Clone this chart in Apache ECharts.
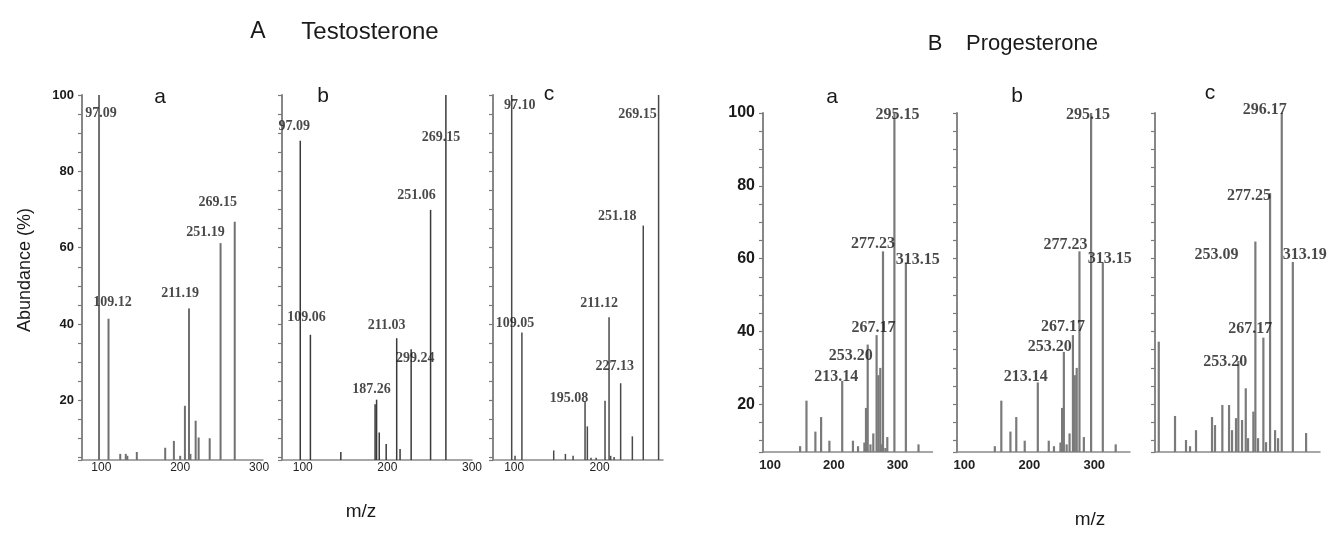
<!DOCTYPE html>
<html>
<head>
<meta charset="utf-8">
<script src="https://cdn.jsdelivr.net/npm/echarts@6/dist/echarts.min.js"></script>
<style>
  html, body { margin: 0; padding: 0; background: #fff; }
  #chart { width: 1330px; height: 545px; }
</style>
</head>
<body>
<div id="chart"></div>
<script>
(() => {
  "use strict";
  // m/z positions and relative abundance (%)
  // A Testosterone, panel a
  const taMz = [97.09, 109.12, 124, 131, 133, 145, 181, 192, 200, 206, 211.19, 213, 219.6, 223.4, 237.4, 251.19, 269.15];
  const taAb = [100, 41.4, 6, 6, 5.5, 6.5, 7.6, 9.4, 5.5, 18.6, 44.1, 6, 14.7, 10.3, 10.1, 61.2, 66.8];
  const taTags = [[97.09, "97.09"], [109.12, "109.12"], [211.19, "211.19"], [251.19, "251.19"], [269.15, "269.15"]];
  // A Testosterone, panel b
  const tbMz = [97.09, 109.06, 145, 185.5, 187.26, 190.4, 198.6, 211.03, 215, 228.1, 251.06, 269.15];
  const tbAb = [88.0, 37.2, 6.5, 19, 20.2, 11.6, 8.6, 36.3, 7.3, 33.4, 69.9, 100];
  const tbTags = [[97.09, "97.09"], [109.06, "109.06"], [187.26, "187.26"], [211.03, "211.03"], [228.1, "299.24"], [251.06, "251.06"], [269.15, "269.15"]];
  // A Testosterone, panel c
  const tcMz = [97.10, 101, 109.05, 146.3, 160, 169, 183, 185.7, 190, 196, 206.4, 211.12, 213, 217, 224.7, 238.4, 251.18, 269.15];
  const tcAb = [100, 5.5, 37.8, 6.9, 6, 5.5, 19.7, 13.2, 5, 5, 19.9, 41.8, 5.5, 5.2, 24.5, 10.6, 65.8, 100];
  const tcTags = [[97.10, "97.10"], [109.05, "109.05"], [183, "195.08"], [211.12, "211.12"], [224.7, "227.13"], [251.18, "251.18"], [269.15, "269.15"]];
  // B Progesterone, panel a
  const paMz = [147, 157, 171, 180, 193, 213.14, 230, 238, 248, 250.5, 253.20, 257.5, 262, 267.17, 270, 273, 275, 277.23, 281, 284, 295.15, 313.15, 333];
  const paAb = [8.5, 21, 12.5, 16.5, 10, 26.4, 10, 8.5, 9.5, 19, 36.4, 9, 12, 39, 28, 30, 9, 62, 8, 11, 100, 59, 9];
  const paTags = [[213.14, "213.14"], [253.20, "253.20"], [267.17, "267.17"], [277.23, "277.23"], [295.15, "295.15"], [313.15, "313.15"]];
  // B Progesterone, panel b
  const pbMz = [147, 157, 171, 180, 193, 213.14, 230, 238, 248, 250.5, 253.20, 257.5, 262, 267.17, 270, 273, 277.23, 284, 295.15, 313.15, 333];
  const pbAb = [8.5, 21, 12.5, 16.5, 10, 26, 10, 8.5, 9.5, 19, 34.4, 9, 12, 39, 28, 30, 62, 11, 100, 59, 9];
  const pbTags = [[213.14, "213.14"], [253.20, "253.20"], [267.17, "267.17"], [277.23, "277.23"], [295.15, "295.15"], [313.15, "313.15"]];
  // B Progesterone, panel c
  const pcMz = [107, 132, 148.9, 155.1, 164.3, 188.9, 193.5, 204.8, 215.1, 219.7, 225.8, 229.4, 235.1, 240.8, 244.3, 252.5, 255.6, 259.7, 267.9, 272, 278.2, 285.9, 290.5, 296.17, 313.19, 333.6];
  const pcAb = [37.2, 16.8, 10.2, 8.5, 12.9, 16.5, 14.3, 19.8, 19.8, 12.9, 16.2, 31.9, 15.7, 24.4, 10.7, 18, 64.7, 10.7, 38.3, 9.6, 78, 12.9, 10.7, 100, 59.1, 12.1];
  const pcTags = [[229.4, "253.20"], [255.6, "253.09"], [267.9, "267.17"], [278.2, "277.25"], [296.17, "296.17"], [313.19, "313.19"]];

  // label offsets (px) from the top of the bar they belong to
  const TAG_OFF = {
    ta: [[2, 18], [4, -16], [-9, -15], [-15, -11], [-17, -19]],
    tb: [[-6, -14], [-4, -17], [-5, -10], [-10, -13], [4, 9], [-14, -15], [-5, 42]],
    tc: [[8, 10], [-7, -9], [-16, -3], [-10, -14], [-6, -17], [-26, -9], [-21, 19]],
    pa: [[-6, -4], [-17, 11], [-3, -7], [-10, -8], [3, 2], [12, -2]],
    pb: [[-12, -6], [-14, -5], [-10, -8], [-14, -7], [-3, 2], [7, -3]],
    pc: [[-13, 1], [-39, 13], [-13, -9], [-21, 3], [-17, -3], [12, -7]],
  };

  const SANS = "'Liberation Sans', Arial, sans-serif";
  const SERIF = "'Liberation Serif', 'Times New Roman', serif";

  const PANELS = [
    { key: "ta", mz: taMz, ab: taAb, tags: taTags, g: [82, 95, 181, 365], x: [75.5, 305], y: [4.4, 100], yLab: 13, xLab: 12, xBold: false, color: "#707070", bw: 2, font: 14 },
    { key: "tb", mz: tbMz, ab: tbAb, tags: tbTags, g: [282, 95, 190, 365], x: [75.5, 300], y: [4.4, 100], yLab: 0, xLab: 12, xBold: false, color: "#3a3a3a", bw: 1.5, font: 14 },
    { key: "tc", mz: tcMz, ab: tcAb, tags: tcTags, g: [493, 95, 170, 365], x: [75.2, 274.3], y: [4.4, 100], yLab: 0, xLab: 12, xBold: false, color: "#4a4a4a", bw: 1.5, font: 14 },
    { key: "pa", mz: paMz, ab: paAb, tags: paTags, g: [763, 113, 169.5, 339], x: [88.7, 355], y: [6.9, 100], yLab: 16, xLab: 13, xBold: true, color: "#7a7a7a", bw: 2.2, font: 16 },
    { key: "pb", mz: pbMz, ab: pbAb, tags: pbTags, g: [957, 113, 173, 339], x: [88.8, 355], y: [6.9, 100], yLab: 0, xLab: 13, xBold: true, color: "#7a7a7a", bw: 2.2, font: 16 },
    { key: "pc", mz: pcMz, ab: pcAb, tags: pcTags, g: [1155, 113, 165, 339], x: [101.2, 355], y: [6.9, 100], yLab: 0, xLab: 0, xBold: true, color: "#7a7a7a", bw: 2.2, font: 16 },
  ];

  const grid = [], xAxis = [], yAxis = [], series = [];
  PANELS.forEach((p, i) => {
    const [l, t, w, h] = p.g;
    grid.push({ left: l, top: t, width: w, height: h });
    xAxis.push({
      type: "value", gridIndex: i, min: p.x[0], max: p.x[1], minInterval: 100, maxInterval: 100,
      splitLine: { show: false },
      axisLine: { lineStyle: { color: "#8a8a8a", width: 1.5 } },
      axisTick: { show: false },
      axisLabel: {
        show: p.xLab > 0, color: "#222", fontFamily: SANS, fontSize: p.xLab || 12, fontWeight: p.xBold ? "bold" : "normal",
        margin: p.xBold ? 7 : 2,
        formatter: v => Math.abs(v % 100) < 1e-6 ? String(v) : "",
      },
    });
    yAxis.push({
      type: "value", gridIndex: i, min: p.y[0], max: p.y[1], minInterval: 5, maxInterval: 5,
      splitLine: { show: false },
      axisLine: { show: true, lineStyle: { color: "#7a7a7a", width: 1.8 } },
      axisTick: { show: true, length: 4, lineStyle: { color: "#7a7a7a", width: 1.2 } },
      axisLabel: {
        show: p.yLab > 0, color: "#1a1a1a", fontFamily: SANS, fontWeight: "bold", fontSize: p.yLab || 12, margin: 8,
        formatter: v => Math.abs(v % 20) < 1e-6 ? String(v) : "",
      },
    });
    series.push({
      type: "bar", xAxisIndex: i, yAxisIndex: i, barWidth: p.bw, clip: true, silent: true,
      itemStyle: { color: p.color },
      data: p.mz.map((m, k) => [m, p.ab[k]]),
    });
    series.push({
      type: "scatter", xAxisIndex: i, yAxisIndex: i, symbolSize: 1, silent: true,
      itemStyle: { color: "rgba(0,0,0,0)" },
      z: 5,
      data: p.tags.map(([m, txt], k) => ({
        value: [m, p.ab[p.mz.indexOf(m)]],
        label: {
          show: true, position: "inside", formatter: txt, offset: TAG_OFF[p.key][k],
          color: "#1a1a1a", fontFamily: SERIF, fontWeight: "bold", fontSize: p.font,
        },
      })),
    });
  });

  const txt = (x, y, s, size, extra) => ({
    type: "text", x, y,
    style: Object.assign({ text: s, fill: "#1a1a1a", font: `${size}px ${SANS}`, textAlign: "center", textVerticalAlign: "middle" }, extra || {}),
  });

  const graphic = [
    txt(258, 32, "A", 23),
    txt(370, 32, "Testosterone", 24),
    txt(935, 44, "B", 22),
    txt(1032, 44, "Progesterone", 22),
    txt(160, 97, "a", 21),
    txt(323, 96, "b", 21),
    txt(549, 94, "c", 21),
    txt(832, 97, "a", 21),
    txt(1017, 96, "b", 21),
    txt(1210, 93, "c", 21),
    txt(361, 512, "m/z", 19),
    txt(1090, 520, "m/z", 19),
    { type: "text", x: 25, y: 270, rotation: Math.PI / 2,
      style: { text: "Abundance (%)", fill: "#1a1a1a", font: `18px ${SANS}`, textAlign: "center", textVerticalAlign: "middle" } },
  ];

  const chart = echarts.init(document.getElementById("chart"));
  chart.setOption({ animation: false, grid, xAxis, yAxis, series, graphic });
})();
</script>
</body>
</html>
